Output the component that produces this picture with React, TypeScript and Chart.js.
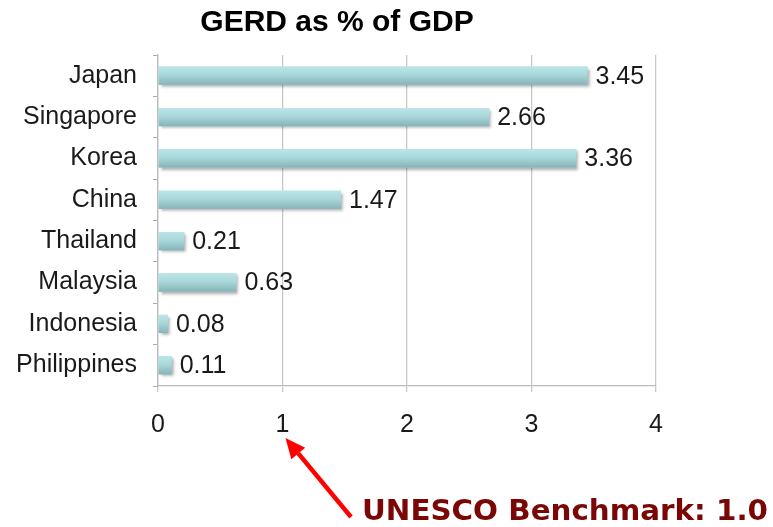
import React, { useEffect, useRef } from "react";
import { Chart, registerables } from "chart.js";

Chart.register(...registerables);

const categories = ["Japan", "Singapore", "Korea", "China", "Thailand", "Malaysia", "Indonesia", "Philippines"];
const gerdValues = [3.45, 2.66, 3.36, 1.47, 0.21, 0.63, 0.08, 0.11];
const xTickValues = [0, 1, 2, 3, 4];
const titleText = "GERD as % of GDP";
const benchmarkText = "UNESCO Benchmark: 1.0";
const benchmarkValue = 1;

const FONT = "'Liberation Sans', Arial, sans-serif";

const barStyle = {
  id: "barStyle",
  beforeDatasetsDraw(chart: any) {
    const ctx = chart.ctx;
    ctx.save();
    ctx.shadowColor = "rgba(0,0,0,0.35)";
    ctx.shadowBlur = 3;
    ctx.shadowOffsetX = 2;
    ctx.shadowOffsetY = 2;
  },
  afterDatasetsDraw(chart: any) {
    const ctx = chart.ctx;
    ctx.restore();
    const meta = chart.getDatasetMeta(0);
    ctx.save();
    meta.data.forEach((el: any, i: number) => {
      const { x, y, base, height } = el.getProps(["x", "y", "base", "height"], true);
      const top = y - height / 2;
      const g = ctx.createLinearGradient(0, top, 0, top + height);
      g.addColorStop(0, "#BCE5E8");
      g.addColorStop(0.45, "#A8D8DB");
      g.addColorStop(1, "#86B3B7");
      ctx.fillStyle = g;
      ctx.fillRect(base, top, x - base, height);
      ctx.fillStyle = "#1a1a1a";
      ctx.font = `25px ${FONT}`;
      ctx.textAlign = "left";
      ctx.textBaseline = "middle";
      ctx.fillText(gerdValues[i].toFixed(2), x + 8, y + 1);
    });
    ctx.restore();
  },
};

const decorations = {
  id: "decorations",
  afterDraw(chart: any) {
    const ctx = chart.ctx;
    const xs = chart.scales.x;
    ctx.save();
    ctx.fillStyle = "#000";
    ctx.font = `bold 30px ${FONT}`;
    ctx.textAlign = "center";
    ctx.textBaseline = "alphabetic";
    ctx.fillText(titleText, 337, 31);

    const tipX = xs.getPixelForValue(benchmarkValue) + 3;
    const tipY = 438;
    const tailX = 351;
    const tailY = 517;
    const ang = Math.atan2(tipY - tailY, tipX - tailX);
    const headLen = 20;
    const headW = 9;
    const bx = tipX - headLen * Math.cos(ang);
    const by = tipY - headLen * Math.sin(ang);
    ctx.strokeStyle = "#FF0000";
    ctx.fillStyle = "#FF0000";
    ctx.lineWidth = 4.5;
    ctx.lineCap = "butt";
    ctx.beginPath();
    ctx.moveTo(tailX, tailY);
    ctx.lineTo(bx, by);
    ctx.stroke();
    ctx.beginPath();
    ctx.moveTo(tipX, tipY);
    ctx.lineTo(bx + headW * Math.sin(ang), by - headW * Math.cos(ang));
    ctx.lineTo(bx - headW * Math.sin(ang), by + headW * Math.cos(ang));
    ctx.closePath();
    ctx.fill();

    ctx.font = `bold 29px 'DejaVu Sans', sans-serif`;
    ctx.fillStyle = "#7A0606";
    ctx.textAlign = "left";
    const w = ctx.measureText(benchmarkText).width;
    const target = 406;
    ctx.translate(362, 520);
    ctx.scale(target / w, 1);
    ctx.fillText(benchmarkText, 0, 0);
    ctx.restore();
  },
};

export default function App() {
  const ref = useRef<HTMLCanvasElement | null>(null);
  useEffect(() => {
    if (!ref.current) return;
    const chart = new Chart(ref.current, {
      type: "bar",
      data: {
        labels: categories,
        datasets: [
          {
            data: gerdValues,
            backgroundColor: "#A8D8DB",
            borderWidth: 0,
            categoryPercentage: 1,
            barPercentage: 0.44,
          },
        ],
      },
      options: {
        indexAxis: "y",
        animation: false,
        responsive: false,
        maintainAspectRatio: false,
        layout: { padding: { left: 0, top: 55, right: 117, bottom: 0 } },
        plugins: {
          legend: { display: false },
          title: { display: false },
          tooltip: { enabled: false },
        },
        scales: {
          x: {
            type: "linear",
            min: 0,
            max: 4,
            afterBuildTicks: (scale: any) => {
              scale.ticks = xTickValues.map((v) => ({ value: v }));
            },
            afterFit: (scale: any) => {
              scale.height = 141;
            },
            grid: {
              color: "#C8C8C8",
              lineWidth: 1.3,
              drawTicks: true,
              tickLength: 6,
              tickColor: "#C8C8C8",
            },
            border: { color: "#BBBBBB", width: 1.3 },
            ticks: {
              color: "#1a1a1a",
              font: { family: FONT, size: 25 },
              padding: 18,
            },
          },
          y: {
            type: "category",
            afterFit: (scale: any) => {
              scale.width = 158;
            },
            grid: {
              drawOnChartArea: false,
              drawTicks: true,
              tickLength: 5,
              tickColor: "#AAAAAA",
              offset: true,
            },
            border: { color: "#BBBBBB", width: 1.3 },
            ticks: {
              color: "#1a1a1a",
              font: { family: FONT, size: 25 },
              padding: 16,
            },
          },
        },
      },
      plugins: [barStyle, decorations],
    });
    return () => chart.destroy();
  }, []);
  return (
    <div style={{ position: "fixed", left: 0, top: 0, width: 773, height: 527, background: "#fff" }}>
      <canvas ref={ref} width={773} height={527} style={{ width: 773, height: 527 }} />
    </div>
  );
}
